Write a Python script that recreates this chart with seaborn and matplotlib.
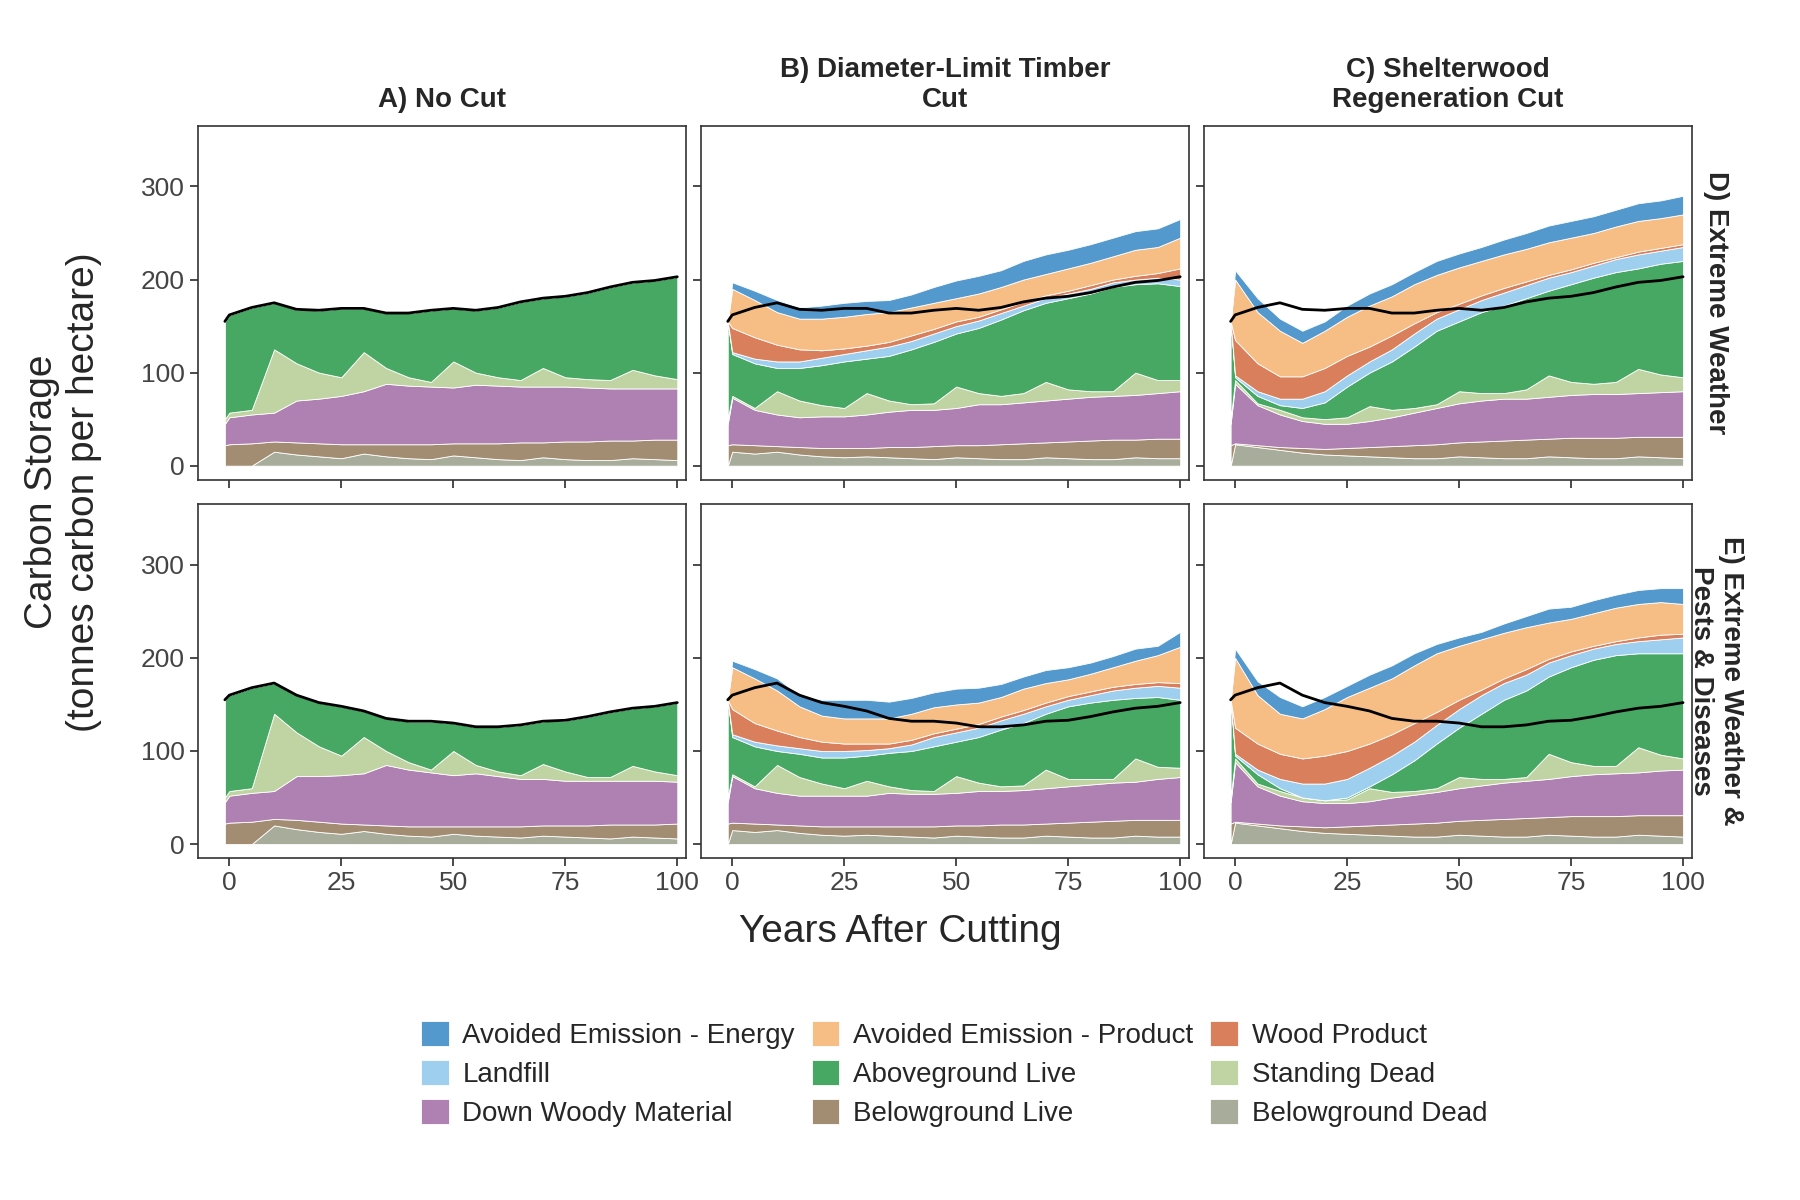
import numpy as np
import matplotlib.pyplot as plt
import seaborn as sns

years = [-1, 0] + list(range(5, 101, 5))

layers = ["Belowground Dead", "Belowground Live", "Down Woody Material", "Standing Dead",
          "Aboveground Live", "Landfill", "Wood Product",
          "Avoided Emission - Product", "Avoided Emission - Energy"]
colors = ["#A8AC9A", "#A38D72", "#AF80B2", "#BFD4A2", "#46A862",
          "#9FCFEF", "#DA7F5B", "#F6BD84", "#5499CD"]

# totals of the no-cut scenario (black reference line)
total_ew = [155, 162, 170, 175, 168, 167, 169, 169, 164, 164, 167, 169, 167, 170, 176, 180, 182, 186, 192, 197, 199, 203]
total_pd = [155, 160, 168, 173, 160, 152, 148, 143, 135, 132, 132, 130, 126, 126, 128, 132, 133, 137, 142, 146, 148, 152]

# cumulative layer tops, bottom to top
a_bd = [0, 0, 0, 15, 12, 10, 8, 13, 10, 8, 7, 11, 9, 7, 6, 9, 7, 6, 6, 8, 7, 6]
a_bl = [22, 23, 24, 26, 25, 24, 23, 23, 23, 23, 23, 24, 24, 24, 25, 25, 26, 26, 27, 27, 28, 28]
a_dwm = [45, 52, 55, 57, 70, 72, 75, 80, 88, 86, 85, 84, 87, 86, 85, 85, 85, 84, 83, 83, 83, 83]
a_sd = [50, 57, 60, 125, 110, 100, 95, 122, 105, 95, 90, 112, 100, 95, 92, 105, 95, 93, 92, 103, 97, 93]

b_bd = [0, 15, 13, 15, 12, 10, 9, 10, 9, 8, 7, 9, 8, 7, 7, 9, 8, 7, 7, 9, 8, 8]
b_bl = [22, 23, 22, 21, 20, 19, 19, 19, 20, 20, 21, 22, 22, 23, 24, 25, 26, 27, 28, 28, 29, 29]
b_dwm = [45, 73, 60, 55, 52, 53, 53, 55, 58, 60, 60, 62, 66, 66, 68, 70, 72, 74, 75, 76, 78, 80]
b_sd = [50, 75, 62, 80, 70, 65, 62, 78, 70, 66, 67, 85, 78, 75, 78, 90, 82, 80, 80, 100, 92, 92]
b_al = [155, 120, 110, 105, 105, 108, 112, 115, 118, 125, 133, 142, 148, 157, 167, 175, 180, 185, 192, 195, 196, 193]
b_lf = [155, 122, 115, 112, 112, 116, 120, 124, 128, 134, 142, 150, 156, 164, 172, 180, 185, 190, 197, 200, 202, 200]
b_wp = [155, 148, 138, 130, 125, 124, 126, 129, 133, 140, 147, 155, 160, 168, 176, 183, 188, 194, 200, 204, 207, 212]
b_aep = [155, 190, 178, 165, 158, 158, 160, 163, 165, 170, 175, 180, 185, 192, 200, 206, 212, 218, 225, 232, 235, 245]
b_aee = [155, 197, 188, 178, 170, 172, 175, 177, 178, 184, 192, 199, 204, 210, 220, 227, 232, 238, 245, 252, 255, 265]

c_bd = [0, 23, 20, 17, 14, 12, 11, 10, 9, 8, 8, 10, 9, 8, 8, 10, 9, 8, 8, 10, 9, 8]
c_bl = [22, 24, 22, 20, 19, 18, 19, 20, 21, 22, 23, 25, 26, 27, 28, 29, 30, 30, 30, 31, 31, 31]
c_dwm = [45, 88, 65, 55, 48, 45, 45, 48, 52, 57, 62, 67, 70, 72, 72, 74, 76, 77, 77, 78, 79, 80]
c_sd = [50, 92, 67, 60, 52, 50, 52, 64, 60, 62, 66, 80, 78, 78, 82, 97, 90, 88, 90, 104, 98, 95]
c_al = [155, 95, 75, 65, 62, 68, 85, 100, 112, 128, 145, 155, 165, 172, 180, 188, 195, 202, 208, 212, 217, 220]
c_lf = [155, 97, 80, 72, 72, 80, 97, 112, 125, 142, 158, 168, 178, 186, 194, 202, 208, 215, 222, 227, 231, 235]
c_wp = [155, 135, 110, 96, 96, 105, 118, 128, 140, 153, 165, 174, 183, 191, 198, 205, 211, 218, 224, 230, 234, 238]
c_aep = [155, 200, 165, 145, 132, 145, 160, 172, 182, 195, 205, 213, 220, 227, 233, 240, 245, 250, 257, 263, 266, 270]
c_aee = [155, 210, 180, 158, 145, 155, 172, 185, 195, 208, 220, 228, 235, 243, 250, 258, 263, 268, 275, 282, 285, 290]

d_bd = [0, 0, 0, 20, 16, 13, 11, 14, 11, 9, 8, 11, 9, 8, 7, 9, 8, 7, 6, 8, 7, 6]
d_bl = [22, 23, 24, 27, 26, 24, 22, 21, 20, 19, 19, 19, 19, 19, 19, 20, 20, 20, 21, 21, 21, 22]
d_dwm = [45, 52, 55, 57, 73, 73, 74, 76, 85, 80, 77, 74, 76, 73, 70, 70, 68, 68, 68, 68, 68, 67]
d_sd = [50, 57, 60, 140, 120, 105, 95, 115, 100, 88, 80, 100, 85, 78, 74, 86, 78, 72, 72, 84, 78, 74]

e_bl = [22, 23, 22, 21, 20, 19, 19, 19, 19, 19, 19, 20, 20, 21, 21, 22, 23, 24, 25, 26, 26, 26]
e_dwm = [45, 73, 60, 55, 52, 52, 52, 52, 55, 54, 54, 55, 57, 57, 58, 60, 62, 64, 66, 67, 70, 72]
e_sd = [50, 75, 62, 85, 72, 65, 60, 68, 62, 58, 57, 73, 66, 62, 63, 80, 70, 70, 70, 92, 83, 82]
e_al = [155, 115, 105, 100, 97, 93, 93, 95, 98, 100, 105, 110, 115, 123, 130, 140, 148, 152, 155, 157, 158, 155]
e_lf = [155, 118, 110, 106, 103, 100, 100, 101, 103, 107, 115, 120, 125, 133, 140, 148, 155, 160, 165, 168, 170, 168]
e_wp = [155, 145, 130, 122, 115, 110, 108, 108, 108, 112, 119, 124, 129, 137, 144, 152, 159, 164, 169, 172, 174, 173]
e_aep = [155, 190, 178, 165, 148, 138, 135, 135, 135, 140, 147, 150, 152, 158, 167, 173, 177, 183, 190, 197, 203, 212]
e_aee = [155, 197, 188, 178, 160, 155, 155, 155, 153, 157, 163, 167, 168, 172, 180, 187, 190, 195, 202, 210, 213, 228]

f_dwm = [45, 88, 62, 52, 46, 44, 44, 46, 50, 53, 56, 60, 63, 66, 68, 70, 73, 75, 76, 77, 79, 80]
f_sd = [50, 92, 65, 57, 50, 47, 48, 60, 56, 57, 60, 72, 70, 70, 72, 97, 88, 84, 84, 104, 96, 92]
f_al = [155, 95, 75, 60, 50, 47, 50, 62, 75, 90, 108, 125, 140, 155, 165, 180, 190, 198, 203, 205, 205, 205]
f_lf = [155, 97, 80, 70, 65, 65, 70, 82, 95, 110, 128, 145, 160, 173, 182, 195, 203, 210, 215, 218, 220, 222]
f_wp = [155, 125, 108, 97, 92, 95, 100, 108, 118, 130, 142, 155, 166, 178, 188, 199, 207, 213, 218, 222, 225, 226]
f_aep = [155, 200, 160, 140, 135, 145, 158, 168, 178, 192, 205, 213, 220, 227, 233, 238, 242, 248, 254, 258, 260, 258]
f_aee = [155, 210, 175, 158, 148, 158, 170, 182, 192, 205, 215, 222, 228, 237, 245, 253, 255, 262, 268, 273, 275, 275]

panels = [
    [a_bd, a_bl, a_dwm, a_sd, total_ew, total_ew, total_ew, total_ew, total_ew],
    [b_bd, b_bl, b_dwm, b_sd, b_al, b_lf, b_wp, b_aep, b_aee],
    [c_bd, c_bl, c_dwm, c_sd, c_al, c_lf, c_wp, c_aep, c_aee],
    [d_bd, d_bl, d_dwm, d_sd, total_pd, total_pd, total_pd, total_pd, total_pd],
    [b_bd, e_bl, e_dwm, e_sd, e_al, e_lf, e_wp, e_aep, e_aee],
    [c_bd, c_bl, f_dwm, f_sd, f_al, f_lf, f_wp, f_aep, f_aee],
]
col_titles = ["A) No Cut", "B) Diameter-Limit Timber\nCut", "C) Shelterwood\nRegeneration Cut"]
row_titles = ["D) Extreme Weather", "E) Extreme Weather &\nPests & Diseases"]

sns.set_theme(style="ticks")
plt.rcParams["font.family"] = ["Liberation Sans", "DejaVu Sans"]

fig, axes = plt.subplots(2, 3, figsize=(18, 12), dpi=100, sharex=True, sharey=True)
fig.subplots_adjust(left=0.11, right=0.94, top=0.895, bottom=0.285, wspace=0.03, hspace=0.07)

x = np.array(years)
for i, ax in enumerate(axes.flat):
    tops = np.maximum.accumulate(np.array(panels[i], dtype=float), axis=0)
    lower = np.zeros(len(x))
    for k in range(len(layers)):
        ax.fill_between(x, lower, tops[k], color=colors[k], edgecolor="white", linewidth=0.6,
                        label=layers[k] if i == 0 else None)
        lower = tops[k]
    line = total_ew if i < 3 else total_pd
    sns.lineplot(x=years, y=line, ax=ax, color="black", linewidth=2, legend=False)
    if ax.get_legend() is not None:
        ax.get_legend().remove()
    ax.set_xlim(-7, 102)
    ax.set_ylim(-15, 365)
    ax.set_xticks([0, 25, 50, 75, 100])
    ax.set_yticks([0, 100, 200, 300])
    ax.tick_params(labelsize=19, colors="#444444", length=6)
    ax.tick_params(axis="both", color="#333333")
    for s in ax.spines.values():
        s.set_color("#333333")
        s.set_linewidth(1.2)
    ax.set_xlabel("")
    ax.set_ylabel("")

for j, t in enumerate(col_titles):
    axes[0, j].set_title(t, fontsize=20, fontweight="bold", pad=14)
for r, t in enumerate(row_titles):
    axes[r, 2].text(1.05, 0.5, t, transform=axes[r, 2].transAxes, rotation=-90,
                    ha="center", va="center", fontsize=20, fontweight="bold")

fig.text(0.5, 0.215, "Years After Cutting", ha="center", fontsize=28)
fig.text(0.035, 0.59, "Carbon Storage\n(tonnes carbon per hectare)", ha="center", va="center",
         rotation=90, fontsize=28)

handles, labels = axes[0, 0].get_legend_handles_labels()
order = [8, 7, 6, 5, 4, 3, 2, 1, 0]
h = [handles[k] for k in order]
lab = [labels[k] for k in order]
# matplotlib fills columns first; reorder so rows read left to right
idx = [0, 3, 6, 1, 4, 7, 2, 5, 8]
fig.legend([h[k] for k in idx], [lab[k] for k in idx], loc="lower center", ncol=3,
           bbox_to_anchor=(0.53, 0.04), frameon=False, fontsize=20, handlelength=1.0,
           handleheight=1.0, columnspacing=0.6, handletextpad=0.5, labelspacing=0.4)

fig.savefig("out.png", dpi=100)
